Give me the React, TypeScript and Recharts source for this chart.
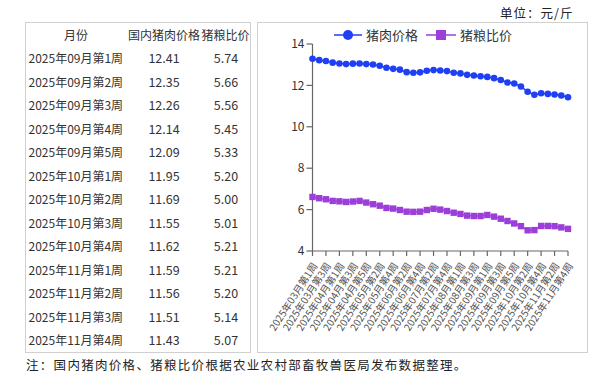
import React from 'react';
import { LineChart, Line, XAxis, YAxis, Legend } from 'recharts';

const weeks = [
  '2025年03月第1周', '2025年03月第2周', '2025年03月第3周', '2025年03月第4周',
  '2025年04月第1周', '2025年04月第2周', '2025年04月第3周', '2025年04月第4周', '2025年04月第5周',
  '2025年05月第1周', '2025年05月第2周', '2025年05月第3周', '2025年05月第4周',
  '2025年06月第1周', '2025年06月第2周', '2025年06月第3周', '2025年06月第4周',
  '2025年07月第1周', '2025年07月第2周', '2025年07月第3周', '2025年07月第4周', '2025年07月第5周',
  '2025年08月第1周', '2025年08月第2周', '2025年08月第3周', '2025年08月第4周',
  '2025年09月第1周', '2025年09月第2周', '2025年09月第3周', '2025年09月第4周', '2025年09月第5周',
  '2025年10月第1周', '2025年10月第2周', '2025年10月第3周', '2025年10月第4周',
  '2025年11月第1周', '2025年11月第2周', '2025年11月第3周', '2025年11月第4周',
];

const porkPrice = [
  13.29, 13.22, 13.18, 13.10, 13.06, 13.03, 13.05, 13.06, 13.03, 13.01,
  12.95, 12.85, 12.80, 12.76, 12.64, 12.61, 12.63, 12.71, 12.74, 12.72,
  12.69, 12.61, 12.58, 12.51, 12.48, 12.44,
  12.41, 12.35, 12.26, 12.14, 12.09, 11.95, 11.69, 11.55, 11.62, 11.59, 11.56, 11.51, 11.43,
];

const grainRatio = [
  6.61, 6.55, 6.50, 6.42, 6.40, 6.37, 6.39, 6.42, 6.34, 6.26,
  6.19, 6.08, 6.05, 5.98, 5.90, 5.89, 5.90, 5.98, 6.04, 6.00,
  5.93, 5.85, 5.79, 5.71, 5.69, 5.69,
  5.74, 5.66, 5.56, 5.45, 5.33, 5.20, 5.00, 5.01, 5.21, 5.21, 5.20, 5.14, 5.07,
];

const yTicks = [4, 6, 8, 10, 12, 14];
const tableHeaders = ['月份', '国内猪肉价格', '猪粮比价'];
const tableStart = 26;

const BLUE = '#1f3ff5';
const PURPLE = '#9c3fd8';
const FONT = '"Noto Sans CJK SC", "Noto Sans", sans-serif';

const data = weeks.map((w, i) => ({ week: w, pork: porkPrice[i], ratio: grainRatio[i] }));

const SquareDot = (props: any) => {
  const { cx, cy, index } = props;
  if (cx == null || cy == null) return <g key={`s${index}`} />;
  return <rect key={`s${index}`} x={cx - 3.2} y={cy - 3.2} width={6.4} height={6.4} fill={PURPLE} />;
};

const XTick = (props: any) => {
  const { x, y, payload } = props;
  return (
    <g transform={`translate(${x + 3},${y + 6})`}>
      <text
        x={0}
        y={0}
        dy={3}
        textAnchor="end"
        transform="rotate(-57)"
        fontSize={10}
        fill="#555"
        fontFamily={FONT}
      >
        {payload.value}
      </text>
    </g>
  );
};

const LegendContent = () => (
  <div
    style={{
      display: 'flex',
      justifyContent: 'center',
      alignItems: 'center',
      fontFamily: FONT,
      fontSize: 13,
      color: '#333',
    }}
  >
    <svg width={28} height={14} style={{ marginRight: 4 }}>
      <line x1={0} y1={7} x2={28} y2={7} stroke={BLUE} strokeWidth={1.5} />
      <circle cx={14} cy={7} r={5} fill={BLUE} />
    </svg>
    <span style={{ marginRight: 8 }}>猪肉价格</span>
    <svg width={30} height={14} style={{ marginRight: 4 }}>
      <line x1={0} y1={7} x2={30} y2={7} stroke={PURPLE} strokeWidth={1.5} />
      <rect x={10} y={2} width={10} height={10} fill={PURPLE} />
    </svg>
    <span>猪粮比价</span>
  </div>
);

export default function App() {
  const rowH = 23.5;
  return (
    <div
      style={{
        position: 'absolute',
        left: 0,
        top: 0,
        width: 612,
        height: 378,
        background: '#fff',
        fontFamily: FONT,
      }}
    >
      <div
        style={{
          position: 'absolute',
          left: 500,
          top: 3,
          fontSize: 12.5,
          letterSpacing: 1,
          color: '#222',
        }}
      >
        单位：元/斤
      </div>

      {/* Table */}
      <div
        style={{
          position: 'absolute',
          left: 25,
          top: 22,
          width: 224,
          height: 329,
          border: '1px solid #d0d0d0',
        }}
      />
      {tableHeaders.map((h, j) => {
        const centers = [76, 164, 225.5];
        return (
          <div
            key={h}
            style={{
              position: 'absolute',
              left: centers[j] - 50,
              width: 100,
              textAlign: 'center',
              top: 35 - 9,
              height: 18,
              lineHeight: '18px',
              fontSize: 12,
              color: '#333',
            }}
          >
            {h}
          </div>
        );
      })}
      {weeks.slice(tableStart).map((w, i) => {
        const cy = 58.3 + i * rowH;
        const idx = tableStart + i;
        return (
          <React.Fragment key={w}>
            <div style={{ position: 'absolute', left: 28.5, top: cy - 9, height: 18, lineHeight: '18px', fontSize: 12, color: '#333' }}>
              {w}
            </div>
            <div style={{ position: 'absolute', left: 114, width: 100, textAlign: 'center', top: cy - 9, height: 18, lineHeight: '18px', fontSize: 12.5, color: '#333' }}>
              {porkPrice[idx].toFixed(2)}
            </div>
            <div style={{ position: 'absolute', left: 176, width: 100, textAlign: 'center', top: cy - 9, height: 18, lineHeight: '18px', fontSize: 12.5, color: '#333' }}>
              {grainRatio[idx].toFixed(2)}
            </div>
          </React.Fragment>
        );
      })}

      {/* Chart box */}
      <div
        style={{
          position: 'absolute',
          left: 257,
          top: 22,
          width: 329,
          height: 329,
          border: '1px solid #d0d0d0',
        }}
      />
      <div style={{ position: 'absolute', left: 258, top: 22 }}>
        <LineChart width={330} height={330} data={data} margin={{ top: 22, right: 20, left: 0, bottom: 0 }}>
          <Legend
            verticalAlign="middle"
            align="center"
            layout="horizontal"
            content={<LegendContent />}
            wrapperStyle={{ top: 3, left: 0, width: 330 }}
          />
          <XAxis
            dataKey="week"
            interval={1}
            height={101}
            tickSize={5}
            stroke="#666"
            strokeWidth={1.2}
            tick={<XTick />}
          />
          <YAxis
            domain={[4, 14]}
            ticks={yTicks}
            width={54.5}
            tickSize={6}
            tickMargin={2}
            stroke="#666"
            strokeWidth={1.2}
            tick={{ fontSize: 12, fill: '#333', fontFamily: FONT }}
          />
          <Line
            dataKey="pork"
            name="猪肉价格"
            stroke={BLUE}
            strokeWidth={1.5}
            dot={{ r: 3.3, fill: BLUE, stroke: BLUE, strokeWidth: 0 }}
            activeDot={false}
            isAnimationActive={false}
          />
          <Line
            dataKey="ratio"
            name="猪粮比价"
            stroke={PURPLE}
            strokeWidth={1.5}
            dot={<SquareDot />}
            activeDot={false}
            isAnimationActive={false}
          />
        </LineChart>
      </div>

      <div
        style={{
          position: 'absolute',
          left: 26,
          top: 355,
          fontSize: 12.5,
          letterSpacing: 1.3,
          color: '#222',
          whiteSpace: 'nowrap',
        }}
      >
        注：国内猪肉价格、猪粮比价根据农业农村部畜牧兽医局发布数据整理。
      </div>
    </div>
  );
}
